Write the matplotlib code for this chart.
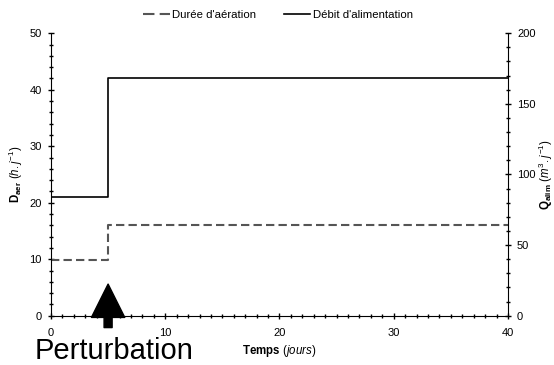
import matplotlib
matplotlib.use('Agg')
import matplotlib.pyplot as plt
from matplotlib.lines import Line2D
from matplotlib.ticker import MultipleLocator

plt.rcParams['font.family'] = ['Liberation Sans', 'DejaVu Sans']
plt.rcParams['mathtext.fontset'] = 'custom'
plt.rcParams['mathtext.rm'] = 'Liberation Sans'
plt.rcParams['mathtext.it'] = 'Liberation Sans:italic'
plt.rcParams['mathtext.bf'] = 'Liberation Sans:bold'

# step data (time in days)
t_aer = [0, 5, 5, 40]
d_aer = [9.8, 9.8, 16, 16]
t_alim = [0, 5, 5, 40]
q_alim = [84, 84, 168, 168]
perturb_day = 5

fig, ax = plt.subplots(figsize=(5.54, 3.65), dpi=100)
fig.subplots_adjust(left=0.092, right=0.917, top=0.909, bottom=0.135)
ax2 = ax.twinx()

ax.plot(t_aer, d_aer, color='#555555', lw=1.5, dashes=(4, 2))
ax2.plot(t_alim, q_alim, color='black', lw=1.2)

ax.set_xlim(0, 40)
ax.set_ylim(0, 50)
ax2.set_ylim(0, 200)

ax.xaxis.set_major_locator(MultipleLocator(10))
ax.xaxis.set_minor_locator(MultipleLocator(1))
ax.yaxis.set_major_locator(MultipleLocator(10))
ax.yaxis.set_minor_locator(MultipleLocator(2))
ax2.yaxis.set_major_locator(MultipleLocator(50))
ax2.yaxis.set_minor_locator(MultipleLocator(10))

for a in (ax, ax2):
    a.spines['top'].set_visible(False)
    a.tick_params(which='major', direction='inout', length=5, width=1,
                  labelsize=8, pad=4)
    a.tick_params(which='minor', direction='inout', length=3.5, width=1)
ax.tick_params(axis='x', which='major', pad=6)
ax2.spines['left'].set_visible(False)
ax2.spines['bottom'].set_visible(False)
ax.spines['right'].set_visible(False)

ax.set_xlabel(r'$\mathbf{Temps}$ $\mathit{(jours)}$', fontsize=8.3, labelpad=4)
ax.set_ylabel(r'$\mathbf{D_{aer}}$ $\mathit{(h.j^{-1})}$', fontsize=8.3, labelpad=3)
ax2.set_ylabel(r'$\mathbf{Q_{alim}}$ $\mathit{(m^{3}.j^{-1})}$', fontsize=8.3, labelpad=1)

ax.annotate('', xy=(perturb_day, 5.6), xytext=(perturb_day, -2.1),
            arrowprops=dict(facecolor='black', edgecolor='black',
                            width=5.8, headwidth=24, headlength=24),
            annotation_clip=False)
ax.text(-1.4, -7.6, 'Perturbation', fontsize=21, ha='left', va='baseline')

h1 = Line2D([], [], color='#555555', lw=1.5, dashes=(5.5, 2.5))
h2 = Line2D([], [], color='black', lw=1.2)
fig.legend(handles=[h1, h2], labels=["Durée d'aération", "Débit d'alimentation"],
           loc='upper center', ncol=2, frameon=False,
           fontsize=8.2, bbox_to_anchor=(0.502, 1.0), handlelength=2.3,
           columnspacing=2.4, handletextpad=0.25)

fig.savefig('out.png', dpi=100)
